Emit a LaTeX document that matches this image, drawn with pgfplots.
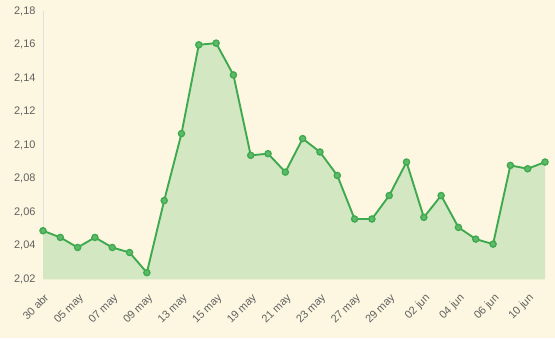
\documentclass[border=0pt]{standalone}
\usepackage{pgfplots}
\pgfplotsset{compat=1.18}
\usepackage{fontspec}
\setmainfont{Liberation Sans}
\definecolor{bg}{HTML}{FDF7E1}
\definecolor{ln}{HTML}{3EA94F}
\definecolor{mk}{HTML}{5DBA68}
\definecolor{ar}{HTML}{D4E7C3}
\definecolor{tx}{HTML}{606060}
\begin{document}
\begin{tikzpicture}[x=1bp,y=1bp]
\fill[bg] (0,0) rectangle (555,338);
\useasboundingbox (0,0) rectangle (555,338);
\begin{axis}[
  at={(43bp,58.7bp)}, anchor=south west,
  scale only axis, width=502bp, height=268bp,
  xmin=0, xmax=29, ymin=2.02, ymax=2.18,
  ytick={2.02,2.04,...,2.181},
  xtick={0,2,...,28},
  xticklabels={30 abr,05 may,07 may,09 may,13 may,15 may,19 may,21 may,23 may,27 may,29 may,02 jun,04 jun,06 jun,10 jun},
  axis y line*=left, axis x line*=bottom,
  x axis line style={draw=none},
  y axis line style={draw=black!12, line width=0.6bp},
  major tick length=0pt,
  tick label style={font=\fontsize{11}{13}\selectfont, text=tx},
  yticklabel style={xshift=-4bp},
  xticklabel style={rotate=45, anchor=north east, inner sep=0bp, xshift=-9bp, yshift=-10bp},
  /pgf/number format/assume math mode=true,
  /pgf/number format/use comma,
  /pgf/number format/fixed,
  /pgf/number format/fixed zerofill,
  /pgf/number format/precision=2,
  clip mode=individual,
  axis background/.style={fill=none},
]
\pgfplotstableread{
x y
0 2.049
1 2.045
2 2.039
3 2.045
4 2.039
5 2.036
6 2.024
7 2.067
8 2.107
9 2.160
10 2.161
11 2.142
12 2.094
13 2.095
14 2.084
15 2.104
16 2.096
17 2.082
18 2.056
19 2.056
20 2.070
21 2.090
22 2.057
23 2.070
24 2.051
25 2.044
26 2.041
27 2.088
28 2.086
29 2.090
}\data
\addplot[fill=ar, draw=none] table[x=x,y=y] {\data} \closedcycle;
\addplot[ln, line width=1.9bp, mark=*, mark size=3.1bp,
  mark options={draw=ln, fill=mk, line width=1.3bp}] table[x=x,y=y] {\data};
\end{axis}
\end{tikzpicture}
\end{document}
